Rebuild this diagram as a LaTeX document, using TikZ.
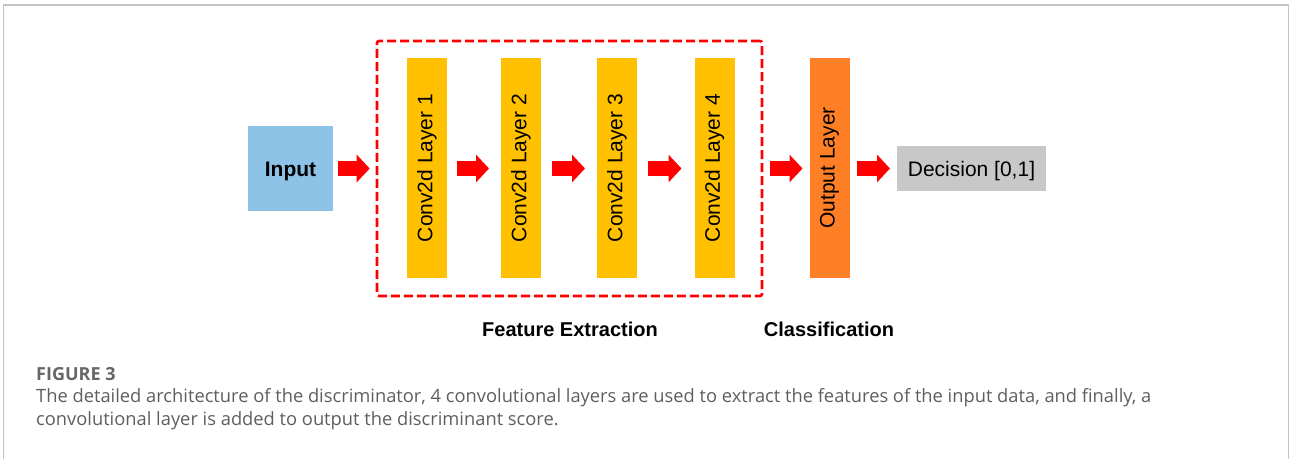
\documentclass[tikz,border=0pt]{standalone}
\usepackage{fontspec}
\setmainfont{Liberation Sans}
\newfontfamily\capfont{Open Sans}
\usetikzlibrary{arrows.meta}
\definecolor{inblue}{HTML}{8DC3E6}
\definecolor{convyel}{HTML}{FFC000}
\definecolor{outorg}{HTML}{FF7F27}
\definecolor{decgray}{HTML}{C8C8C8}
\definecolor{framegray}{HTML}{C4C4C4}
\definecolor{capgray}{HTML}{5E5E5E}
\tikzset{
  blockbox/.style={draw=none, inner sep=0pt, outer sep=0pt, font=\fontsize{21}{24}\selectfont},
  convbox/.style={blockbox, fill=convyel, minimum width=40pt, minimum height=220pt},
  bigarrow/.style={draw=red, line width=15pt, -{Triangle[width=27pt,length=13pt]}},
  groupbox/.style={draw=red, line width=2.6pt, dash pattern=on 9pt off 4pt, rounded corners=2pt, inner sep=0pt},
  grouplabel/.style={font=\bfseries\fontsize{20}{24}\selectfont},
  captext/.style={anchor=west, inner sep=0pt, text=capgray, font=\capfont\fontsize{18.3}{22}\selectfont}
}
\begin{document}
\begin{tikzpicture}[x=1pt,y=-1pt]
\useasboundingbox (0,0) rectangle (1290,458);
% frame
\draw[framegray, line width=1.5pt] (3.5,470) -- (3.5,5) -- (1288.5,5) -- (1288.5,470);
% nodes
\node[blockbox, fill=inblue, minimum width=85pt, minimum height=85pt] (in) at (290.5,168.5) {};
\node[font=\bfseries\fontsize{21}{24}\selectfont, inner sep=0pt] (inl) at ([yshift=-3pt]in.center) {Input};
\node[convbox] (c1) at (427,168) {\rotatebox{90}{Conv2d Layer 1}};
\node[convbox] (c2) at (521,168) {\rotatebox{90}{Conv2d Layer 2}};
\node[convbox] (c3) at (617,168) {\rotatebox{90}{Conv2d Layer 3}};
\node[convbox] (c4) at (714.5,168) {\rotatebox{90}{Conv2d Layer 4}};
\node[blockbox, fill=outorg, minimum width=40pt, minimum height=220pt] (out) at (829.5,168) {\rotatebox{90}{Output Layer}};
\node[blockbox, fill=decgray, minimum width=149pt, minimum height=45pt] (dec) at (971.5,168.5) {};
\node[font=\fontsize{21}{24}\selectfont, inner sep=0pt] (decl) at ([yshift=-2.5pt]dec.center) {Decision [0,1]};
\node[groupbox, minimum width=385pt, minimum height=255pt] (fe) at (569.5,168.5) {};
% labels
\node[grouplabel] (fel) at (570,329) {Feature Extraction};
\node[grouplabel] (cll) at (829,329) {Classification};
% arrows
\draw[bigarrow] ([xshift=5pt]in.east) -- ([xshift=-6pt]fe.west |- in.east);
\draw[bigarrow] ([xshift=10pt]c1.east |- in.east) -- ([xshift=-12pt]c2.west |- in.east);
\draw[bigarrow] ([xshift=11pt]c2.east |- in.east) -- ([xshift=-12pt]c3.west |- in.east);
\draw[bigarrow] ([xshift=11pt]c3.east |- in.east) -- ([xshift=-13pt]c4.west |- in.east);
\draw[bigarrow] ([xshift=7pt]fe.east |- in.east) -- ([xshift=-7pt]out.west |- in.east);
\draw[bigarrow] ([xshift=7pt]out.east |- in.east) -- ([xshift=-7pt]dec.west);
% caption
\node[captext, font=\capfont\bfseries\fontsize{18}{22}\selectfont, text=capgray!95] (fig) at (36,374) {FIGURE 3};
\node[captext] (cap1) at (36,398) {The detailed architecture of the discriminator, 4 convolutional layers are used to extract the features of the input data, and finally, a};
\node[captext] (cap2) at (36,421) {convolutional layer is added to output the discriminant score.};
\end{tikzpicture}
\end{document}
